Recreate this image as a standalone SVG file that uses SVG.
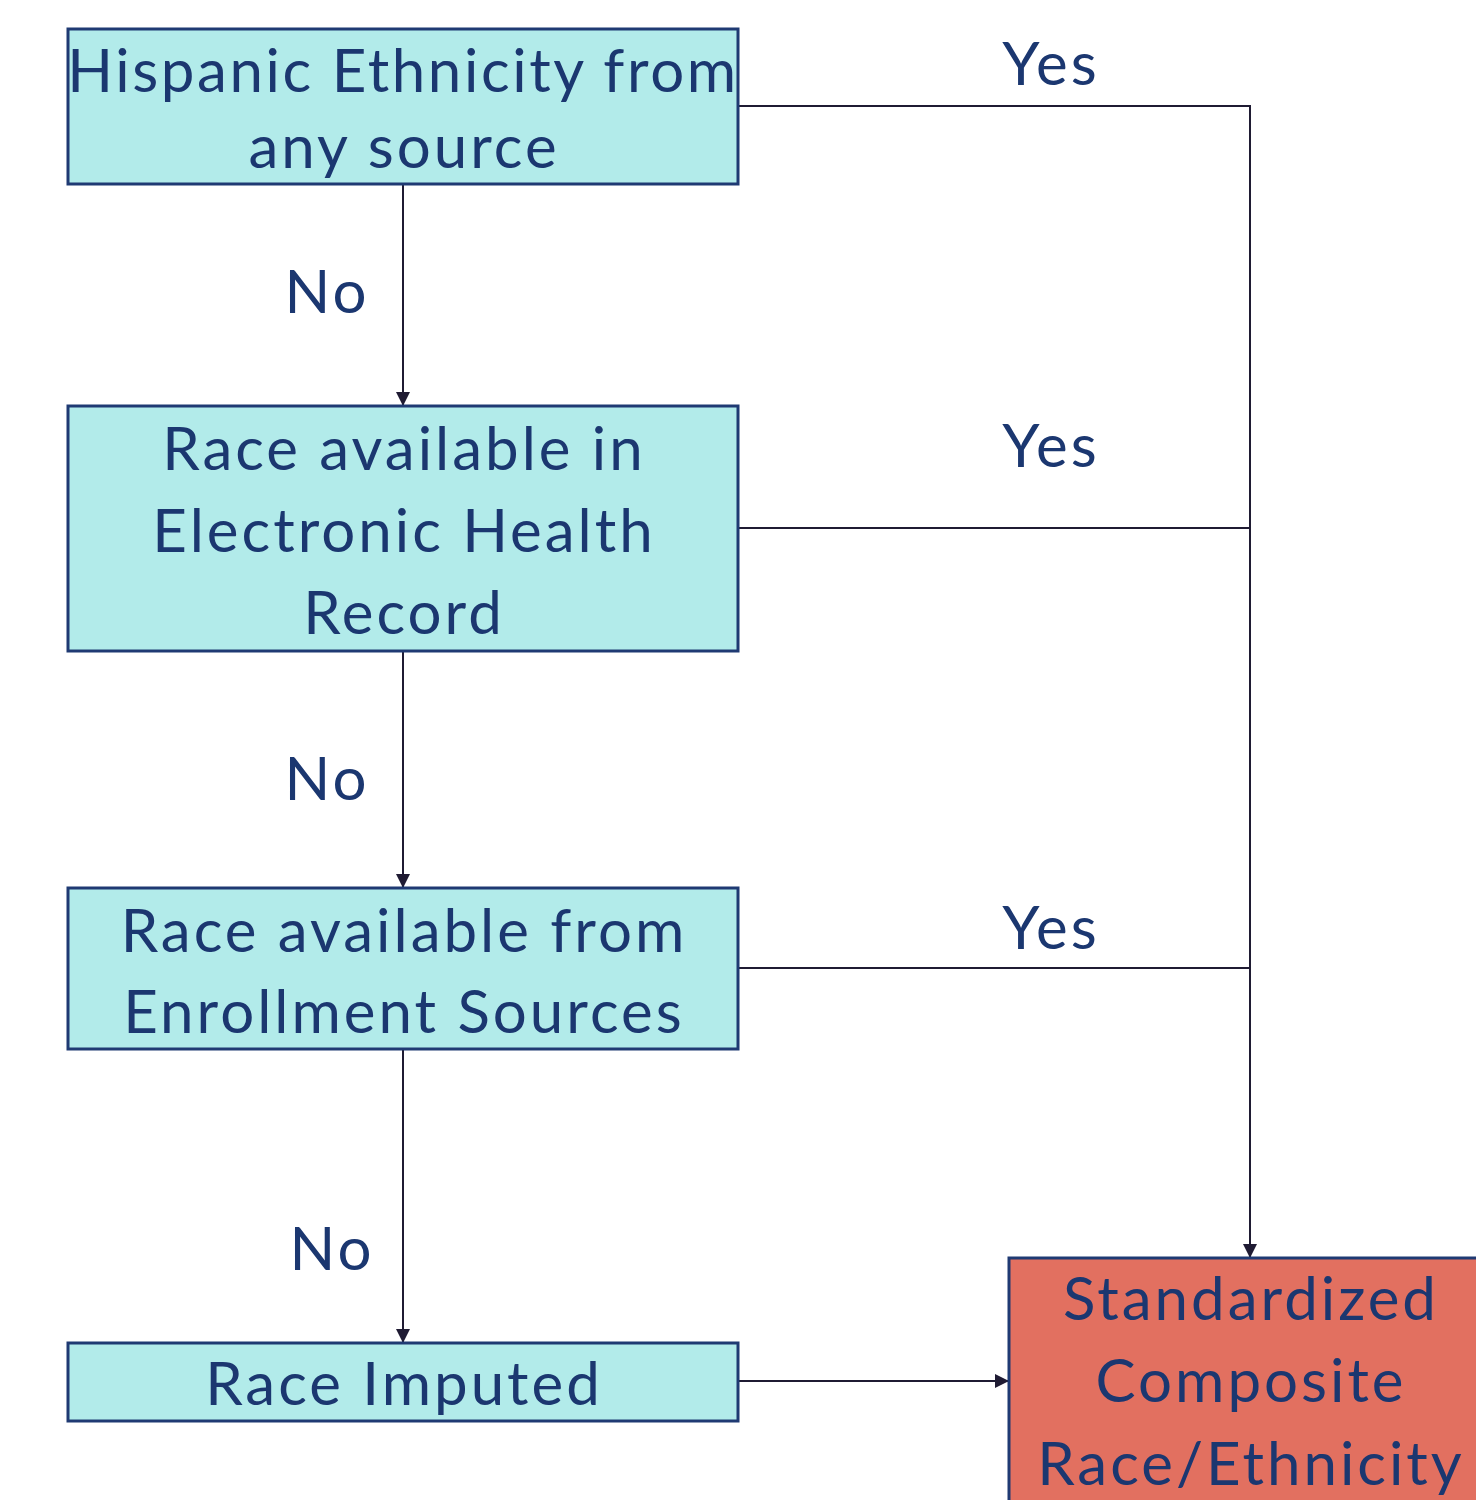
<svg xmlns="http://www.w3.org/2000/svg" width="1476" height="1500" viewBox="0 0 1476 1500">
<style>
.box{fill:#b2ebea;stroke:#1f3a73;stroke-width:3}
.out{fill:#e27060;stroke:#1f3a73;stroke-width:3}
.t{font-family:Lato,"Noto Sans",sans-serif;font-size:60px;fill:#1b3770;text-anchor:middle;letter-spacing:3px}
.c{fill:none;stroke:#1f1b33;stroke-width:2}
</style>
<defs>
<marker id="ah" markerWidth="14" markerHeight="14" refX="13" refY="7" orient="auto" markerUnits="userSpaceOnUse">
<path d="M0,0 L14,7 L0,14 Z" fill="#1f1b33"/>
</marker>
</defs>
<rect width="1476" height="1500" fill="#fff"/>
<g id="connectors">
<path class="c" d="M403,184 V405" marker-end="url(#ah)"/>
<path class="c" d="M403,651 V887" marker-end="url(#ah)"/>
<path class="c" d="M403,1049 V1342" marker-end="url(#ah)"/>
<path class="c" d="M738,106 H1250 V1257" marker-end="url(#ah)"/>
<path class="c" d="M738,528 H1250"/>
<path class="c" d="M738,968 H1250"/>
<path class="c" d="M738,1381 H1008" marker-end="url(#ah)"/>
<text class="t" x="1051" y="85">Yes</text>
<text class="t" x="1051" y="467">Yes</text>
<text class="t" x="1051" y="949">Yes</text>
<text class="t" x="327" y="313">No</text>
<text class="t" x="327" y="800">No</text>
<text class="t" x="332" y="1270">No</text>
</g>
<g id="n1">
<rect class="box" x="68" y="29" width="670" height="155"/>
<text class="t" x="403" y="92" style="letter-spacing:2.6px">Hispanic Ethnicity from</text>
<text class="t" x="404" y="168">any source</text>
</g>
<g id="n2">
<rect class="box" x="68" y="406" width="670" height="245"/>
<text class="t" x="404" y="470">Race available in</text>
<text class="t" x="404" y="552">Electronic Health</text>
<text class="t" x="404" y="634">Record</text>
</g>
<g id="n3">
<rect class="box" x="68" y="888" width="670" height="161"/>
<text class="t" x="404" y="952">Race available from</text>
<text class="t" x="404" y="1033">Enrollment Sources</text>
</g>
<g id="n4">
<rect class="box" x="68" y="1343" width="670" height="78"/>
<text class="t" x="404" y="1405">Race Imputed</text>
</g>
<g id="n5">
<rect class="out" x="1009" y="1258" width="490" height="270"/>
<text class="t" x="1251" y="1320">Standardized</text>
<text class="t" x="1251" y="1402">Composite</text>
<text class="t" x="1251" y="1485">Race/Ethnicity</text>
</g>
</svg>
